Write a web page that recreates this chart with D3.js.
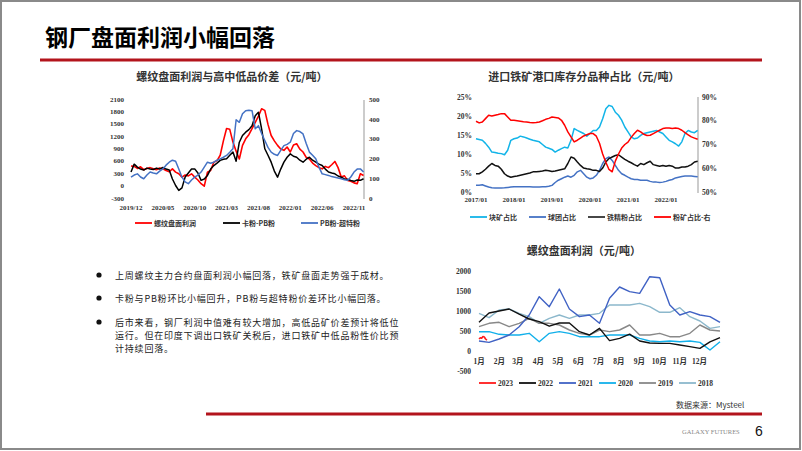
<!DOCTYPE html>
<html><head><meta charset="utf-8">
<script src="https://cdn.jsdelivr.net/npm/d3@7"></script>
<style>body{margin:0;background:#fff;}svg{display:block;}</style>
</head><body>
<svg id="c" width="802" height="451"></svg>
<script>
// ---------- Chart 1: 螺纹盘面利润与高中低品价差 ----------
const c1Ticks = ['2019/12','2020/05','2020/10','2021/03','2021/08','2022/01','2022/06','2022/11'];
const c1LeftTicks = [-300,0,300,600,900,1200,1500,1800,2100];
const c1RightTicks = [0,100,200,300,400,500];
// half-month steps starting 2019/12
const c1Profit = [490,480,430,470,400,430,450,420,400,440,420,380,350,420,340,300,220,270,250,300,220,150,60,0,
  340,380,580,620,750,1100,1400,1380,1070,850,660,990,1150,1250,1400,1550,1700,1880,1840,1500,1230,1100,990,900,
  870,950,830,1000,1030,900,830,700,660,560,500,450,420,480,450,520,600,450,220,250,140,120,80,60,300,260];
const c1KaPB = [135,175,160,150,145,155,150,148,155,150,158,150,145,100,67,42,55,110,130,150,151,130,93,100,
  118,150,168,180,194,200,202,220,236,190,286,320,337,350,370,420,438,354,253,220,185,140,109,150,
  185,210,227,215,210,195,185,200,210,195,185,175,168,150,135,130,126,115,109,100,98,92,88,95,93,101];
const c1PBSuper = [109,120,126,110,101,120,135,130,126,140,151,170,185,195,190,150,109,85,76,95,109,120,135,160,
  185,180,185,195,202,210,219,235,253,400,387,430,446,448,446,354,370,330,295,260,236,225,219,245,
  269,275,286,330,345,340,328,280,236,220,202,160,126,122,118,112,109,105,101,96,93,110,135,150,151,135];
const c1Legend = ['螺纹盘面利润','卡粉-PB粉','PB粉-超特粉'];

// ---------- Chart 2: 进口铁矿港口库存分品种占比 ----------
const c2Ticks = ['2017/01','2018/01','2019/01','2020/01','2021/01','2022/01'];
const c2LeftTicks = [0,5,10,15,20,25];
const c2RightTicks = [50,60,70,80,90];
// monthly from 2017/01 to 2022/11
const c2Lump = [14.0,13.8,13.6,12.8,11.8,10.5,10.4,10.2,10.1,9.8,11.0,13.6,
  14.0,14.2,14.7,14.5,14.2,13.9,13.6,13.4,13.2,12.5,11.8,11.5,
  11.2,10.5,11.0,11.4,11.8,11.6,13.6,16.7,16.2,15.8,15.4,14.7,
  15.4,16.2,16.2,17.1,19.3,21.9,22.8,22.5,21.0,20.2,18.9,17.1,
  15.8,14.5,14.0,14.2,14.9,15.4,15.6,15.8,16.0,16.2,15.8,15.4,
  14.5,13.6,13.2,12.7,12.1,13.2,15.4,16.2,15.8,15.6,16.2];
const c2Pellet = [1.75,1.8,1.9,1.6,1.3,1.1,1.05,1.05,1.05,1.1,1.2,1.3,
  1.4,1.4,1.4,1.4,1.4,1.35,1.3,1.3,1.3,1.35,1.4,1.5,
  1.75,2.5,3.1,3.5,3.9,4.2,3.9,4.4,5.3,5.7,4.8,3.9,
  3.5,3.7,4.4,5.7,7.5,8.8,9.2,8.3,7.0,5.7,4.8,4.4,
  3.9,3.5,3.3,3.3,3.1,3.1,3.1,2.8,2.6,2.6,2.5,2.6,
  2.8,3.1,3.3,3.7,3.9,4.1,4.2,4.2,4.2,4.1,4.0];
const c2Conc = [4.8,4.8,5.3,6.0,6.8,7.5,7.0,6.8,6.0,4.8,4.2,3.9,
  4.1,4.2,4.4,4.6,4.8,5.0,5.3,5.3,5.4,5.5,5.7,5.6,
  5.4,5.5,5.7,5.9,6.1,7.5,9.2,8.9,7.9,7.0,6.3,6.1,
  6.0,5.7,5.7,5.4,6.3,7.9,8.8,9.2,9.6,9.8,9.2,8.6,
  8.1,7.7,7.2,6.8,7.5,7.2,7.7,8.1,7.2,7.0,6.8,7.0,
  6.8,7.0,6.8,6.3,6.3,6.6,6.6,6.8,7.2,7.9,8.1];
const c2Fines = [79.8,79.1,79.5,80.9,82.3,82.0,82.3,82.6,83.0,83.0,81.6,80.2,
  80.2,80.0,79.8,79.6,79.5,79.3,79.2,79.3,79.5,80.0,80.6,81.0,
  81.6,81.4,81.2,80.2,78.1,75.3,73.2,71.1,71.8,72.7,73.6,74.1,
  74.6,74.6,73.5,70.5,66.0,62.5,59.5,58.5,63.0,66.0,68.5,70.0,
  71.0,73.0,74.6,76.0,75.3,74.3,73.8,73.9,74.6,75.3,76.0,76.7,
  76.9,76.9,76.7,76.9,76.7,76.0,75.0,74.1,73.2,72.7,72.2];
const c2Legend = ['块矿占比','球团占比','铁精粉占比','粉矿占比-右'];

// ---------- Chart 3: 螺纹盘面利润 (seasonal) ----------
const c3Months = ['1月','2月','3月','4月','5月','6月','7月','8月','9月','10月','11月','12月'];
const c3MonthStartDays = [0,31,59,90,120,151,181,212,243,273,304,334];
const c3YTicks = [-500,0,500,1000,1500,2000];
const c3Years = ['2023','2022','2021','2020','2019','2018'];
// 2023: first days of January (day-of-year, value)
const y2023Days = [0,2,4,6,8,10,12];
const y2023 = [300,330,320,360,350,300,270];
// half-month steps through the year (25 points)
const y2022 = [717,950,1000,1050,920,800,733,620,700,700,483,400,567,260,317,420,250,200,190,190,150,110,67,230,333];
const y2021 = [250,217,300,400,608,900,1358,1108,1550,1050,858,900,692,1317,1600,1483,1442,1858,1833,1150,900,983,900,858,717];
const y2020 = [483,483,417,400,400,442,233,442,483,442,358,358,358,400,400,400,317,250,233,250,233,250,217,25,233];
const y2019 = [608,692,717,608,692,817,692,692,650,525,442,400,525,483,525,650,400,400,442,358,358,442,650,525,500];
const y2018 = [942,833,1025,1050,942,858,692,817,900,817,900,900,942,1150,1150,1150,1192,1108,967,967,1083,858,750,567,608];

const texts = [
  ['上周螺纹主力合约盘面利润小幅回落，铁矿盘面走势强于成材。'],
  ['卡粉与PB粉环比小幅回升，PB粉与超特粉价差环比小幅回落。'],
  ['后市来看，钢厂利润中值难有较大增加，高低品矿价差预计将低位','运行。但在印度下调出口铁矿关税后，进口铁矿中低品粉性价比预','计持续回落。']
];

// ================= drawing =================
const svg = d3.select('#c');
const CJK = '"Noto Sans CJK SC","Noto Sans",sans-serif';
const SERIF = '"Liberation Serif","DejaVu Serif",serif';

svg.append('rect').attr('x',1).attr('y',1).attr('width',799).attr('height',448)
  .attr('fill','#fff').attr('stroke','#8a8a8a').attr('stroke-width',2);

svg.append('text').attr('x',45).attr('y',36).attr('dominant-baseline','central')
  .attr('font-family',CJK).attr('font-weight','bold').attr('font-size',23).attr('fill','#000')
  .text('钢厂盘面利润小幅回落');
svg.append('line').attr('x1',40).attr('x2',762).attr('y1',60).attr('y2',60)
  .attr('stroke','#b3141c').attr('stroke-width',3);

function title(x,y,t){
  svg.append('text').attr('x',x).attr('y',y).attr('text-anchor','middle').attr('dominant-baseline','central')
    .attr('font-family',CJK).attr('font-weight','bold').attr('font-size',11).attr('fill','#333').text(t);
}
function tick(x,y,t,anchor,size){
  svg.append('text').attr('x',x).attr('y',y).attr('text-anchor',anchor).attr('dominant-baseline','central')
    .attr('font-family',SERIF).attr('font-weight','bold').attr('font-size',size||7).attr('fill','#333').text(t);
}
function path(data,xf,yf,color,w){
  svg.append('path').datum(data).attr('fill','none').attr('stroke',color).attr('stroke-width',w||1.4)
    .attr('stroke-linejoin','round')
    .attr('d',d3.line().x(xf).y(yf));
}
function legend(items,y,fontFam,size){
  items.forEach(it=>{
    svg.append('line').attr('x1',it.x).attr('x2',it.x+17).attr('y1',y).attr('y2',y)
      .attr('stroke',it.c).attr('stroke-width',1.8);
    svg.append('text').attr('x',it.x+19).attr('y',y).attr('dominant-baseline','central')
      .attr('font-family',fontFam).attr('font-weight','bold').attr('font-size',size).attr('fill','#333').text(it.t);
  });
}

// ---- Chart 1 ----
title(232,76,'螺纹盘面利润与高中低品价差（元/吨）');
const x1 = d3.scaleLinear().domain([0,35]).range([131,354]);
const y1L = d3.scaleLinear().domain([-300,2100]).range([198.5,99.7]);
const y1R = d3.scaleLinear().domain([0,500]).range([198.7,100]);
c1LeftTicks.forEach(v=>tick(124,y1L(v),v,'end',7));
c1RightTicks.forEach(v=>tick(369,y1R(v),v,'start',7));
c1Ticks.forEach((t,i)=>tick(x1(i*5),208,t,'middle',7));
svg.append('line').attr('x1',364).attr('x2',364).attr('y1',100).attr('y2',199).attr('stroke','#999').attr('stroke-width',1);
const idx1 = c1Profit.map((d,i)=>i*0.5);
path(c1Profit,(d,i)=>x1(idx1[i]),d=>y1L(d),'#ff0000',1.6);
path(c1KaPB,(d,i)=>x1(idx1[i]),d=>y1R(d),'#000000',1.5);
path(c1PBSuper,(d,i)=>x1(idx1[i]),d=>y1R(d),'#4472c4',1.5);
legend([{x:135,c:'#ff0000',t:c1Legend[0]},{x:223,c:'#000',t:c1Legend[1]},{x:301,c:'#4472c4',t:c1Legend[2]}],223,CJK,7);

// ---- Chart 2 ----
title(584,76,'进口铁矿港口库存分品种占比（元/吨）');
const x2 = d3.scaleLinear().domain([0,60]).range([476,666]);
const y2L = d3.scaleLinear().domain([0,25]).range([192,97]);
const y2R = d3.scaleLinear().domain([50,90]).range([192,97]);
c2LeftTicks.forEach(v=>tick(472,y2L(v),v+'%','end',7.5));
c2RightTicks.forEach(v=>tick(702,y2R(v),v+'%','start',7.5));
c2Ticks.forEach((t,i)=>tick(x2(i*12),200,t,'middle',7));
svg.append('line').attr('x1',698).attr('x2',698).attr('y1',97).attr('y2',193).attr('stroke','#999').attr('stroke-width',1);
path(c2Lump,(d,i)=>x2(i),d=>y2L(d),'#12b4e8',1.5);
path(c2Pellet,(d,i)=>x2(i),d=>y2L(d),'#4472c4',1.5);
path(c2Conc,(d,i)=>x2(i),d=>y2L(d),'#111111',1.5);
path(c2Fines,(d,i)=>x2(i),d=>y2R(d),'#ff0000',1.5);
legend([{x:470,c:'#12b4e8',t:c2Legend[0]},{x:529,c:'#4472c4',t:c2Legend[1]},{x:588,c:'#333',t:c2Legend[2]},{x:654,c:'#ff0000',t:c2Legend[3]}],217,CJK,7);

// ---- Chart 3 ----
title(584,250,'螺纹盘面利润（元/吨）');
const x3 = d3.scaleLinear().domain([0,365]).range([479,720]);
const y3 = d3.scaleLinear().domain([-500,2000]).range([371,271]);
c3YTicks.forEach(v=>tick(471,y3(v),v,'end',7.5));
c3Months.forEach((t,i)=>{
  svg.append('text').attr('x',x3(c3MonthStartDays[i])).attr('y',361).attr('text-anchor','middle').attr('dominant-baseline','central')
    .attr('font-family',SERIF+','+CJK).attr('font-weight','bold').attr('font-size',7.5).attr('fill','#333').text(t);
});
const c3Colors = {'2023':'#ff1a1a','2022':'#111','2021':'#4062c4','2020':'#12b0ea','2019':'#888888','2018':'#8cb8cc'};
const half = i=>i*365/24;
path(y2018,(d,i)=>x3(half(i)),d=>y3(d),c3Colors['2018'],1.4);
path(y2019,(d,i)=>x3(half(i)),d=>y3(d),c3Colors['2019'],1.4);
path(y2020,(d,i)=>x3(half(i)),d=>y3(d),c3Colors['2020'],1.4);
path(y2021,(d,i)=>x3(half(i)),d=>y3(d),c3Colors['2021'],1.4);
path(y2022,(d,i)=>x3(half(i)),d=>y3(d),c3Colors['2022'],1.4);
path(y2023,(d,i)=>x3(y2023Days[i]),d=>y3(d),c3Colors['2023'],1.6);
legend(c3Years.map((yr,i)=>({x:479+i*40,c:c3Colors[yr],t:yr})),383,SERIF,7.5);

// ---- bullet text ----
const bulletY = [275,298,322];
const lineGap = 13.1;
texts.forEach((lines,i)=>{
  svg.append('circle').attr('cx',99).attr('cy',bulletY[i]).attr('r',2.6).attr('fill','#111');
  lines.forEach((ln,j)=>{
    svg.append('text').attr('x',115).attr('y',bulletY[i]+j*lineGap).attr('dominant-baseline','central')
      .attr('font-family',CJK).attr('font-size',9).attr('letter-spacing',0.8).attr('fill','#222').text(ln);
  });
});

// ---- footer ----
svg.append('text').attr('x',676).attr('y',404).attr('dominant-baseline','central')
  .attr('font-family',CJK).attr('font-size',8).attr('fill','#333').text('数据来源：Mysteel');
svg.append('line').attr('x1',206).attr('x2',762).attr('y1',414).attr('y2',414)
  .attr('stroke','#b3141c').attr('stroke-width',3);
svg.append('text').attr('x',682).attr('y',431).attr('dominant-baseline','central')
  .attr('font-family',SERIF).attr('font-size',6.5).attr('fill','#888').text('GALAXY FUTURES');
svg.append('text').attr('x',755).attr('y',431).attr('dominant-baseline','central')
  .attr('font-family','"Liberation Sans",Arial,sans-serif').attr('font-size',14).attr('fill','#111').text('6');
</script>
</body></html>
